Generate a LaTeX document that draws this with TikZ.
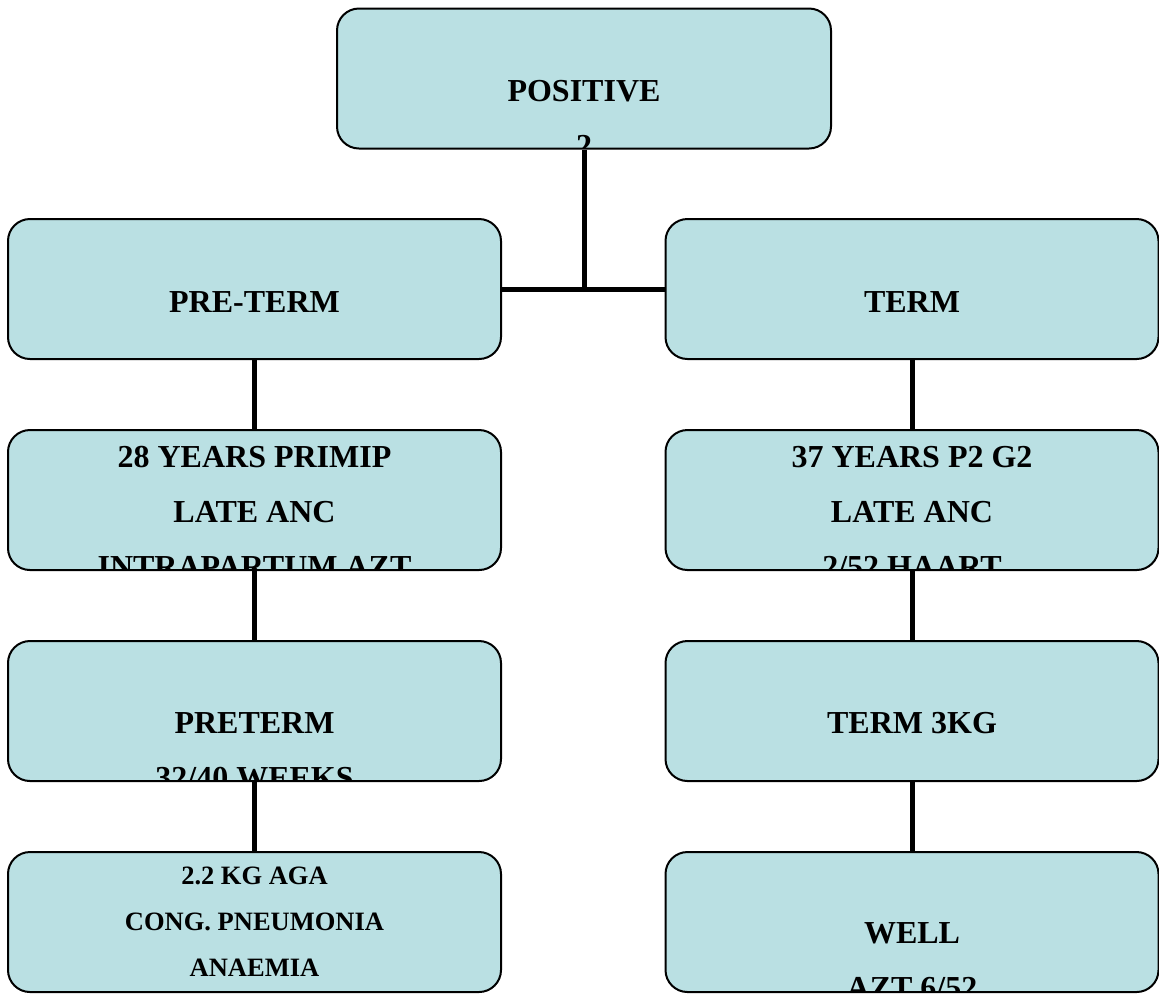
\documentclass[tikz,border=0pt]{standalone}
\usepackage{fontspec}
\setmainfont{Liberation Serif}
\usepackage{xcolor}
\usepackage{tikz}

\definecolor{cardblue}{RGB}{186,224,227}

\tikzset{
  card/.style={draw=black, line width=1pt, fill=cardblue, rounded corners=11pt,
    minimum width=246.5pt, minimum height=70pt, inner sep=0pt},
  cardtext/.style={font=\bfseries\fontsize{16}{27.5}\selectfont, align=center, anchor=base},
  smalltext/.style={font=\bfseries\fontsize{13.25}{23}\selectfont, align=center, anchor=base},
  label/.style 2 args={path picture={\node[cardtext] at ([yshift=-#1]path picture bounding box.north) {#2};}},
  smalllabel/.style 2 args={path picture={\node[smalltext] at ([yshift=-#1]path picture bounding box.north) {#2};}},
  link/.style={line width=2.5pt}
}

\begin{document}
\begin{tikzpicture}[x=0.5pt,y=-0.5pt]
\useasboundingbox (0,0) rectangle (1159,993);

\node[card, minimum width=247pt, label={74pt}{POSITIVE\\2}] (positive) at (584,78.5) {};

\node[card, label={46.5pt}{PRE-TERM}] (preterm) at (254.5,289) {};
\node[card, label={46.5pt}{TERM}] (term) at (912,289) {};

\node[card, label={73.5pt}{28 YEARS PRIMIP\\LATE ANC\\INTRAPARTUM AZT}] (mumleft) at (254.5,500) {};
\node[card, label={73.5pt}{37 YEARS P2 G2\\LATE ANC\\2/52 HAART}] (mumright) at (912,500) {};

\node[card, label={73.5pt}{PRETERM\\32/40 WEEKS}] (babyleft) at (254.5,711) {};
\node[card, label={46pt}{TERM 3KG}] (babyright) at (912,711) {};

\node[card, smalllabel={62pt}{2.2 KG AGA\\CONG. PNEUMONIA\\ANAEMIA}] (outleft) at (254.5,922) {};
\node[card, label={73pt}{WELL\\AZT 6/52}] (outright) at (912,922) {};

\draw[link] (positive.south) -- (positive.south |- preterm.east);
\draw[link] (preterm.east) -- (term.west);
\draw[link] (preterm.south) -- (mumleft.north);
\draw[link] (mumleft.south) -- (babyleft.north);
\draw[link] (babyleft.south) -- (outleft.north);
\draw[link] (term.south) -- (mumright.north);
\draw[link] (mumright.south) -- (babyright.north);
\draw[link] (babyright.south) -- (outright.north);
\end{tikzpicture}
\end{document}
